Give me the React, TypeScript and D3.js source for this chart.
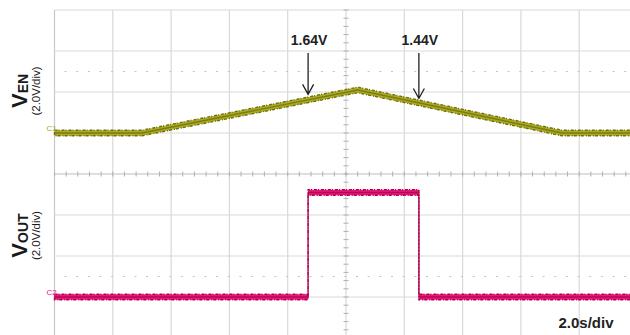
import React, { useEffect, useRef } from "react";
import * as d3 from "d3";

// time axis: 2.0 s/div, 10 divisions
const timeDivs = [0, 1, 2, 3, 4, 5, 6, 7, 8, 9, 10];
const levelDivs = [-4, -3, -2, -1, 0, 1, 2, 3, 4];

// channel 1 (VEN) breakpoints, seconds / volts
const venTime = [0, 3.0, 10.4, 17.4, 20];
const venVolts = [0, 0, 2.1, 0, 0];

// channel 2 (VOUT) breakpoints
const voutTime = [0, 8.7, 8.7, 12.5, 12.5, 20];
const voutVolts = [0, 0, 5.1, 5.1, 0, 0];

// annotation arrows on VEN
const markTime = [8.7, 12.5];
const markVolts = [1.64, 1.44];
const markLabels = ["1.64V", "1.44V"];

// dotted cursor levels (ch1 volts, ch2 volts)
const cursorCh1 = [3.0];
const cursorCh2 = [1.0];

const W = 630,
  H = 335;

export default function App() {
  const ref = useRef<SVGSVGElement>(null);

  useEffect(() => {
    const svg = d3.select(ref.current);
    svg.selectAll("*").remove();

    const left = 54.5,
      divW = 58.3,
      top = 10,
      divH = 41;

    const x = d3.scaleLinear().domain([0, 20]).range([left, left + 10 * divW]);
    const screen = d3.scaleLinear().domain([4, -4]).range([top, top + 8 * divH]);
    // 2.0V/div, ch1 ground at +1 div, ch2 ground at -3 div
    const y1 = d3.scaleLinear().domain([0, 2]).range([screen(1), screen(2)]);
    const y2 = d3.scaleLinear().domain([0, 2]).range([screen(-3), screen(-2)]);

    svg.append("rect").attr("width", W).attr("height", H).attr("fill", "#fff");

    const grid = svg.append("g");
    grid
      .selectAll("line.v")
      .data(timeDivs)
      .join("line")
      .attr("x1", (d) => x(d * 2))
      .attr("x2", (d) => x(d * 2))
      .attr("y1", screen(4))
      .attr("y2", screen(-4))
      .attr("stroke", (d) => (d === 0 ? "#c8c8c8" : "#d9d9d9"))
      .attr("stroke-width", 1.2);
    grid
      .selectAll("line.h")
      .data(levelDivs)
      .join("line")
      .attr("x1", x(0))
      .attr("x2", x(20))
      .attr("y1", (d) => screen(d))
      .attr("y2", (d) => screen(d))
      .attr("stroke", (d) => (d === 0 ? "#bdbdbd" : "#d9d9d9"))
      .attr("stroke-width", 1.2);

    // minor ticks on the centre axes
    const xMinor = d3.range(0, 50.01, 1).map((i) => i * 0.4);
    grid
      .selectAll("line.xm")
      .data(xMinor)
      .join("line")
      .attr("x1", (d) => x(d))
      .attr("x2", (d) => x(d))
      .attr("y1", screen(0) - 2.5)
      .attr("y2", screen(0) + 2.5)
      .attr("stroke", "#b0b0b0")
      .attr("stroke-width", 1);
    const yMinor = d3.range(-20, 20.01, 1).map((i) => i * 0.2);
    grid
      .selectAll("line.ym")
      .data(yMinor)
      .join("line")
      .attr("x1", x(10) - 2.5)
      .attr("x2", x(10) + 2.5)
      .attr("y1", (d) => screen(d))
      .attr("y2", (d) => screen(d))
      .attr("stroke", "#b0b0b0")
      .attr("stroke-width", 1);

    // dotted cursor lines
    const cursorYs = [...cursorCh1.map((v) => y1(v)), ...cursorCh2.map((v) => y2(v))];
    grid
      .selectAll("line.c")
      .data(cursorYs)
      .join("line")
      .attr("x1", x(0) + 10)
      .attr("x2", x(20))
      .attr("y1", (d) => d)
      .attr("y2", (d) => d)
      .attr("stroke", "#c4c4c4")
      .attr("stroke-width", 1.2)
      .attr("stroke-dasharray", "2,9.66");

    // traces: noisy band + thin centre line
    const drawTrace = (
      ts: number[],
      vs: number[],
      ys: d3.ScaleLinear<number, number>,
      dark: string,
      mid: string,
      half: number
    ) => {
      const pts = ts.map((t, i) => [t, vs[i]] as [number, number]);
      const band = d3
        .area<[number, number]>()
        .x((d) => x(d[0]))
        .y0((d) => ys(d[1]) + half)
        .y1((d) => ys(d[1]) - half);
      const line = d3
        .line<[number, number]>()
        .x((d) => x(d[0]))
        .y((d) => ys(d[1]));
      const g = svg.append("g");
      g.append("path")
        .attr("d", band(pts))
        .attr("fill", mid)
        .attr("stroke", dark)
        .attr("stroke-width", 1.4)
        .attr("stroke-dasharray", "3,1,1,2");
      g.append("path")
        .attr("d", line(pts))
        .attr("fill", "none")
        .attr("stroke", dark)
        .attr("stroke-width", 1.4)
        .attr("opacity", 0.8);
    };
    drawTrace(venTime, venVolts, y1, "#6f6f0c", "#abab24", 2.8);
    drawTrace(voutTime, voutVolts, y2, "#b0004f", "#e8187a", 2.8);

    // channel markers
    svg
      .append("text")
      .attr("x", left - 8)
      .attr("y", y1(0) - 2)
      .attr("font-family", "Liberation Sans, Arial, sans-serif")
      .attr("font-size", 8)
      .attr("fill", "#a8a820")
      .text("C1");
    svg
      .append("text")
      .attr("x", left - 8)
      .attr("y", y2(0) - 2)
      .attr("font-family", "Liberation Sans, Arial, sans-serif")
      .attr("font-size", 8)
      .attr("fill", "#e8187a")
      .text("C2");

    // arrows and labels
    const ann = svg
      .append("g")
      .selectAll("g")
      .data(markTime)
      .join("g")
      .attr("transform", (d) => `translate(${x(d)},0)`);
    ann
      .append("text")
      .attr("x", 1)
      .attr("y", 45)
      .attr("text-anchor", "middle")
      .attr("font-family", "Liberation Sans, Arial, sans-serif")
      .attr("font-weight", "bold")
      .attr("font-size", 14)
      .attr("fill", "#222")
      .text((d, i) => markLabels[i]);
    ann
      .append("path")
      .attr("d", (d, i) => {
        const tip = y1(markVolts[i]) - 5;
        return `M0,53V${tip}M-5.5,${tip - 10}L0,${tip}L5.5,${tip - 10}`;
      })
      .attr("fill", "none")
      .attr("stroke", "#222")
      .attr("stroke-width", 1.3);

    // channel titles
    const titles = [
      { main: "V", sub: "EN", cy: y1(2.05) },
      { main: "V", sub: "OUT", cy: y2(3.0) },
    ];
    titles.forEach((t) => {
      const g = svg
        .append("g")
        .attr("transform", `translate(27,${t.cy}) rotate(-90)`)
        .attr("font-family", "Liberation Sans, Arial, sans-serif")
        .attr("font-weight", "bold")
        .attr("fill", "#1a1a1a");
      const tx = g.append("text").attr("text-anchor", "middle");
      tx.append("tspan").attr("font-size", 22).text(t.main);
      tx.append("tspan").attr("font-size", 14).attr("dy", 0.5).text(t.sub);
      svg
        .append("text")
        .attr("transform", `translate(39.5,${t.cy}) rotate(-90)`)
        .attr("text-anchor", "middle")
        .attr("font-family", "Liberation Sans, Arial, sans-serif")
        .attr("font-size", 11.5)
        .attr("fill", "#1a1a1a")
        .text("(2.0V/div)");
    });

    svg
      .append("text")
      .attr("x", 586)
      .attr("y", 328)
      .attr("text-anchor", "middle")
      .attr("font-family", "Liberation Sans, Arial, sans-serif")
      .attr("font-weight", "bold")
      .attr("font-size", 15)
      .attr("fill", "#222")
      .text("2.0s/div");
  }, []);

  return (
    <svg
      ref={ref}
      width={W}
      height={H}
      style={{ position: "absolute", left: 0, top: 0, display: "block" }}
    />
  );
}
